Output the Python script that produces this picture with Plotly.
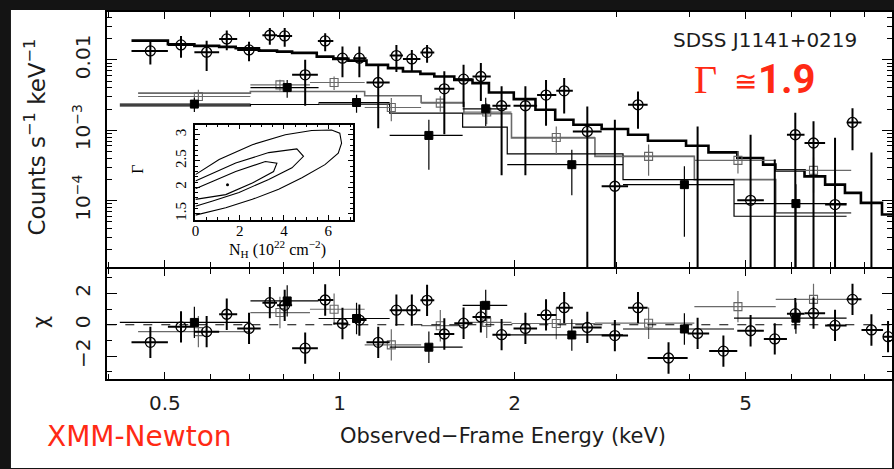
import plotly.graph_objects as go

# ---------------- data ----------------
# EPIC-pn spectrum (open circles): bin centre / edges (keV), counts s^-1 keV^-1, 1-sigma error, residual (chi)
pn_e   = [0.472, 0.533, 0.590, 0.639, 0.698, 0.758, 0.804, 0.872, 0.944, 1.011, 1.081, 1.165,
          1.252, 1.331, 1.414, 1.514, 1.634, 1.750, 1.900, 2.088, 2.266, 2.435, 2.669, 2.977,
          3.263, 3.683, 4.133, 4.578, 5.099, 5.612, 6.088, 6.544, 7.127, 7.638, 8.233, 8.794]
pn_elo = [0.438, 0.506, 0.562, 0.620, 0.666, 0.736, 0.780, 0.828, 0.917, 0.975, 1.055, 1.112,
          1.219, 1.285, 1.377, 1.455, 1.575, 1.693, 1.832, 1.992, 2.187, 2.360, 2.520, 2.825,
          3.137, 3.390, 3.973, 4.327, 4.837, 5.374, 5.890, 6.315, 6.852, 7.461, 7.915, 8.622]
pn_ehi = [0.506, 0.562, 0.620, 0.666, 0.731, 0.780, 0.828, 0.917, 0.975, 1.035, 1.112, 1.219,
          1.285, 1.377, 1.455, 1.575, 1.693, 1.820, 1.968, 2.187, 2.360, 2.520, 2.825, 3.137,
          3.390, 3.973, 4.327, 4.837, 5.374, 5.890, 6.315, 6.852, 7.461, 7.915, 8.622, 9.300]
pn_cts = [0.01342, 0.01632, 0.01286, 0.01986, 0.01386, 0.02240, 0.02189, 0.00613, 0.01860,
          0.01057, 0.01057, 0.00477, 0.01151, 0.01033, 0.01269, 0.00388, 0.00532, 0.00580,
          0.00223, 0.00223, 0.00316, 0.00363, 0.000962, 0.000160, 0.00230, 4e-6, 4e-6, 4e-6,
          0.000101, 4e-6, 0.000863, 0.000658, 0.0000877, 0.00129, 4e-6, 4e-6]
pn_err = [0.0048, 0.0056, 0.0059, 0.0062, 0.0043, 0.0060, 0.0065, 0.0039, 0.0053, 0.0049,
          0.0049, 0.0037, 0.0048, 0.0035, 0.0036, 0.0030, 0.0032, 0.0032, 0.0020, 0.0020,
          0.0020, 0.0019, 0.00121, 0.00125, 0.00125, 3e-6, 0.00113, 3e-6, 0.00076, 0.00038,
          0.00091, 0.00068, 0.000695, 0.00077, 0.00048, 3e-6]
pn_chi = [-1.12, -0.13, -0.44, 0.67, -0.23, 1.41, 1.24, -1.49, 1.58, 0.08, 0.30, -1.12,
          0.93, 0.93, 1.56, -0.59, 0.10, 0.50, -0.63, -0.23, 0.63, 1.09, -0.17, -0.69,
          1.09, -2.12, -0.55, -1.68, -0.38, -0.90, 0.71, 0.74, -0.04, 1.62, -0.33, -0.76]

# MOS1 spectrum (open grey squares)
m1_e   = [0.571, 0.789, 0.978, 1.227, 1.490, 1.791, 2.360, 3.403, 4.850, 6.544]
m1_elo = [0.4496, 0.7017, 0.8887, 1.104, 1.381, 1.636, 1.976, 2.751, 4.080, 5.634]
m1_ehi = [0.7017, 0.8887, 1.104, 1.381, 1.636, 1.976, 2.751, 4.080, 5.634, 7.599]
m1_cts = [0.003015, 0.004418, 0.00477, 0.002105, 0.00243, 0.001813, 0.00079, 0.000425,
          0.000373, 0.000269]
m1_err = [0.00074, 0.00078, 0.00103, 0.00076, 0.0006, 0.0006, 0.00034, 0.0002, 0.00013, 0.00014]
m1_chi = [-0.44, 0.78, 0.99, -1.28, -0.06, 0.15, 0.08, 0.10, 1.16, 1.62]

# MOS2 spectrum (filled squares)
m2_e   = [0.562, 0.812, 1.069, 1.424, 1.784, 2.510, 3.922, 6.103]
m2_elo = [0.4182, 0.7020, 0.9196, 1.219, 1.628, 1.943, 3.075, 4.775]
m2_ehi = [0.7020, 0.9196, 1.219, 1.628, 1.943, 3.075, 4.775, 7.461]
m2_cts = [0.002352, 0.004046, 0.002479, 0.000844, 0.002018, 0.000324, 0.0001686, 0.0000906]
m2_err = [0.00054, 0.00115, 0.00071, 0.00057, 0.00087, 0.000205, 0.000138, 0.00008]
m2_chi = [0.15, 1.52, 0.40, -1.43, 1.24, -0.65, -0.27, 0.42]

# folded power-law models (step functions: bin edges and model value per bin)
mod_pn_edges = [0.438, 0.506, 0.562, 0.620, 0.662, 0.726, 0.780, 0.828, 0.913, 0.975, 1.035,
                1.112, 1.211, 1.285, 1.377, 1.455, 1.575, 1.693, 1.807, 1.994, 2.173, 2.350,
                2.526, 2.825, 3.137, 3.394, 3.948, 4.315, 4.837, 5.359, 5.627, 6.315, 6.852,
                7.413, 7.897, 8.586, 9.146]
mod_pn_vals = [0.01878, 0.0167, 0.0158, 0.01529, 0.01466, 0.01355, 0.01311, 0.01257, 0.01114,
               0.01033, 0.00977, 0.00849, 0.00763, 0.00683, 0.00633, 0.0058, 0.0052, 0.00467,
               0.00344, 0.00277, 0.001953, 0.00141, 0.001197, 0.00104, 0.000863, 0.00071,
               0.000603, 0.000484, 0.000403, 0.000324, 0.000269, 0.000221, 0.0001686,
               0.0001286, 0.0000927, 0.0000633]
mod_m1_edges = m1_elo + [m1_ehi[-1]]
mod_m1_vals = [0.003371, 0.003552, 0.003552, 0.003086, 0.002479, 0.001714, 0.000775,
               0.000425, 0.0001986, 0.0000669]
mod_m2_edges = m2_elo + [m2_ehi[-1]]
mod_m2_vals = [0.002226, 0.002323, 0.002352, 0.001754, 0.00111, 0.00046, 0.0001986, 0.0000599]

# inset: confidence contours N_H (1e22 cm^-2) vs photon index
c68_nh = [0, 1.82, 3.16, 3.68, 3.53, 2.57, 1.37, 0]
c68_g  = [1.97, 2.30, 2.49, 2.46, 2.30, 2.08, 1.86, 1.77]
c90_nh = [0, 1.82, 3.31, 4.58, 4.88, 4.36, 3.31, 1.97, 0.78, 0]
c90_g  = [2.12, 2.46, 2.66, 2.73, 2.59, 2.37, 2.15, 1.90, 1.74, 1.64]
c99_nh = [0, 1.07, 2.57, 4.06, 5.25, 6.15, 6.52, 6.60, 6.45, 5.85, 4.81, 3.76, 2.57, 1.37, 0]
c99_g  = [2.24, 2.53, 2.81, 3.00, 3.08, 3.09, 3.03, 2.84, 2.65, 2.43, 2.18, 1.96, 1.77, 1.61, 1.47]
best_nh = [1.45]
best_g = [2.05]

x_major = [0.5, 1, 2, 5]
x_major_text = ["0.5", "1", "2", "5"]
x_minor = [0.4, 0.6, 0.7, 0.8, 0.9, 3, 4, 6, 7, 8]
y_major = [1e-4, 1e-3, 1e-2]
y_major_text = ["10<sup>\u22124</sup>", "10<sup>\u22123</sup>", "0.01"]
y_minor = [m * 10 ** k for k in (-5, -4, -3, -2) for m in range(2, 10)]

# ---------------- layout helpers ----------------
W, H = 894, 469
def fx(p):
    return p / W
def fy(p):
    return (H - p) / H

SANS = "DejaVu Sans"
SERIF = "Liberation Serif"
INK = "#1c1c1c"
RED = "#ff2a14"

fig = go.Figure()

def steps(edges, vals, width, color, xa, ya):
    fig.add_trace(go.Scatter(x=edges, y=list(vals) + [vals[-1]], mode="lines",
                             line=dict(shape="hv", width=width, color=color),
                             xaxis=xa, yaxis=ya, hoverinfo="skip"))

def points(e, lo, hi, y, yerr, sym, size, color, lw, ethick, ecolor, xa, ya):
    fig.add_trace(go.Scatter(
        x=e, y=y, mode="markers", xaxis=xa, yaxis=ya,
        marker=dict(symbol=sym, size=size, color=color, line=dict(width=lw, color=color)),
        error_x=dict(type="data", symmetric=False,
                     array=[h - c for h, c in zip(hi, e)],
                     arrayminus=[c - l for c, l in zip(e, lo)],
                     thickness=ethick, width=0, color=ecolor),
        error_y=dict(type="data", array=yerr, thickness=ethick, width=0, color=ecolor)))

# models (upper panel)
steps(mod_m1_edges, mod_m1_vals, 1.6, "#6a6a6a", "x", "y")
steps(mod_m2_edges, mod_m2_vals, 1.2, "#000000", "x", "y")
steps(mod_pn_edges, mod_pn_vals, 2.6, "#000000", "x", "y")

# spectra
points(m1_e, m1_elo, m1_ehi, m1_cts, m1_err, "square-open", 8, "#666666", 1.1, 1.2, "#6a6a6a", "x", "y")
points(m2_e, m2_elo, m2_ehi, m2_cts, m2_err, "square", 8, "#000000", 1, 1.2, "#000000", "x", "y")
points(pn_e, pn_elo, pn_ehi, pn_cts, pn_err, "circle-open", 10, "#000000", 1.3, 2, "#000000", "x", "y")

# residuals
ones1 = [1.0] * len(m1_chi)
ones2 = [1.0] * len(m2_chi)
onesp = [1.0] * len(pn_chi)
points(m1_e, m1_elo, m1_ehi, m1_chi, ones1, "square-open", 8, "#666666", 1.1, 1.2, "#6a6a6a", "x2", "y2")
points(m2_e, m2_elo, m2_ehi, m2_chi, ones2, "square", 8, "#000000", 1, 1.2, "#000000", "x2", "y2")
points(pn_e, pn_elo, pn_ehi, pn_chi, onesp, "circle-open", 10, "#000000", 1.3, 2, "#000000", "x2", "y2")

# inset contours
for cx, cy in ((c99_nh, c99_g), (c90_nh, c90_g), (c68_nh, c68_g)):
    fig.add_trace(go.Scatter(x=cx, y=cy, mode="lines", line=dict(color="#000", width=1.1),
                             xaxis="x3", yaxis="y3", hoverinfo="skip"))
fig.add_trace(go.Scatter(x=best_nh, y=best_g, mode="markers", marker=dict(size=3, color="#000"),
                         xaxis="x3", yaxis="y3"))

# ---------------- axes ----------------
xdom = [fx(104), 1.0]
up_dom = [fy(268), fy(12)]
lo_dom = [fy(380), fy(270)]   # shared separator line drawn once
xrange_log = [-0.4002, 0.951]

axfont = dict(family=SANS, size=20, color=INK)
common_x = dict(type="log", range=xrange_log, domain=xdom, showline=True, linecolor="#000",
                linewidth=2, mirror="ticks", ticks="inside", ticklen=7, tickwidth=1.3,
                tickcolor="#000", tickvals=x_major, ticktext=x_major_text, showgrid=False,
                zeroline=False,
                minor=dict(tickvals=x_minor, ticks="inside", ticklen=5, tickwidth=1.2,
                           tickcolor="#000", showgrid=False))

insfont = dict(family=SERIF, size=15, color="#000")

fig.update_layout(
    width=W, height=H, margin=dict(l=0, r=0, t=0, b=0),
    paper_bgcolor="#141414", plot_bgcolor="#ffffff", showlegend=False,
    xaxis=dict(common_x, anchor="y", showticklabels=False),
    yaxis=dict(type="log", range=[-4.950, -1.319], domain=up_dom, anchor="x",
               showline=True, linecolor="#000", linewidth=2, mirror="ticks",
               ticks="inside", ticklen=10, tickwidth=1.3, tickcolor="#000",
               tickvals=y_major, ticktext=y_major_text, tickangle=-90, tickfont=axfont,
               ticklabelstandoff=7, showgrid=False, zeroline=False,
               minor=dict(tickvals=y_minor, ticks="inside", ticklen=5, tickwidth=1.2,
                          tickcolor="#000", showgrid=False)),
    xaxis2=dict(common_x, anchor="y2", matches="x", showticklabels=True, tickfont=axfont,
                ticklabelstandoff=5),
    yaxis2=dict(range=[-3.47, 3.53], domain=lo_dom, anchor="x2", showline=True,
                linecolor="#000", linewidth=2, mirror="ticks", ticks="inside", ticklen=10,
                tickwidth=1.3, tickcolor="#000", tickvals=[-2, 0, 2],
                ticktext=["\u22122", "0", "2"], tickangle=-90, tickfont=axfont,
                ticklabelstandoff=7, showgrid=False, zeroline=False,
                minor=dict(tickvals=[-3, -1, 1, 3], ticks="inside", ticklen=5,
                           tickwidth=1.2, tickcolor="#000", showgrid=False)),
    xaxis3=dict(range=[0, 7.1], domain=[fx(192.7), fx(351)], anchor="y3", showline=True,
                linecolor="#000", linewidth=1.5, mirror="ticks", ticks="inside", ticklen=5,
                tickwidth=1, tickcolor="#000", tickvals=[0, 2, 4, 6],
                tickfont=insfont, ticklabelstandoff=-3,
                showgrid=False, zeroline=False,
                minor=dict(dtick=0.5, ticks="inside", ticklen=3, tickcolor="#000",
                           tickwidth=1, showgrid=False)),
    yaxis3=dict(range=[1.386, 3.19], domain=[fy(220), fy(125)], anchor="x3", showline=True,
                linecolor="#000", linewidth=1.5, mirror="ticks", ticks="inside", ticklen=5,
                tickwidth=1, tickcolor="#000", tickvals=[1.5, 2, 2.5, 3], tickangle=-90,
                tickfont=insfont, ticklabelstandoff=2,
                showgrid=False, zeroline=False,
                minor=dict(dtick=0.1, ticks="inside", ticklen=3, tickcolor="#000",
                           tickwidth=1, showgrid=False)),
)

# white page inside the dark frame, and the zero line in the residual panel
fig.add_shape(type="rect", xref="paper", yref="paper", x0=fx(7), x1=1.0, y0=0, y1=fy(10),
              fillcolor="#ffffff", line=dict(width=0), layer="below")
fig.add_shape(type="line", xref="x2 domain", yref="y2", x0=0, x1=1, y0=0, y1=0,
              line=dict(color="#000", width=1.2, dash="dash"))

def note(text, x, y, size, color=INK, family=SANS, angle=0):
    fig.add_annotation(text=text, x=fx(x), y=fy(y), xref="paper", yref="paper",
                       showarrow=False, textangle=angle, xanchor="center", yanchor="middle",
                       font=dict(family=family, size=size, color=color))

note("Counts s<sup>\u22121</sup> keV<sup>\u22121</sup>", 31, 137, 23, angle=-90)
note("\u03c7", 38, 323, 21, angle=-90)
note("Observed\u2212Frame Energy (keV)", 502, 437, 21)
note("SDSS J1141+0219", 766, 40, 20)
note("\u0393", 706, 80, 40, color=RED, family=SERIF)
note("\u2245", 747, 82, 28, color=RED)
note("<b>1.9</b>", 788, 80, 40, color=RED, family="Roboto")
note("XMM-Newton", 136, 437, 28, color=RED)
note("N<sub>H</sub> (10<sup>22</sup> cm<sup>\u22122</sup>)", 275, 250, 16, color="#000", family=SERIF)
note("\u0393", 135, 170, 16, color="#000", family=SERIF, angle=-90)

fig.write_html("out.html")
